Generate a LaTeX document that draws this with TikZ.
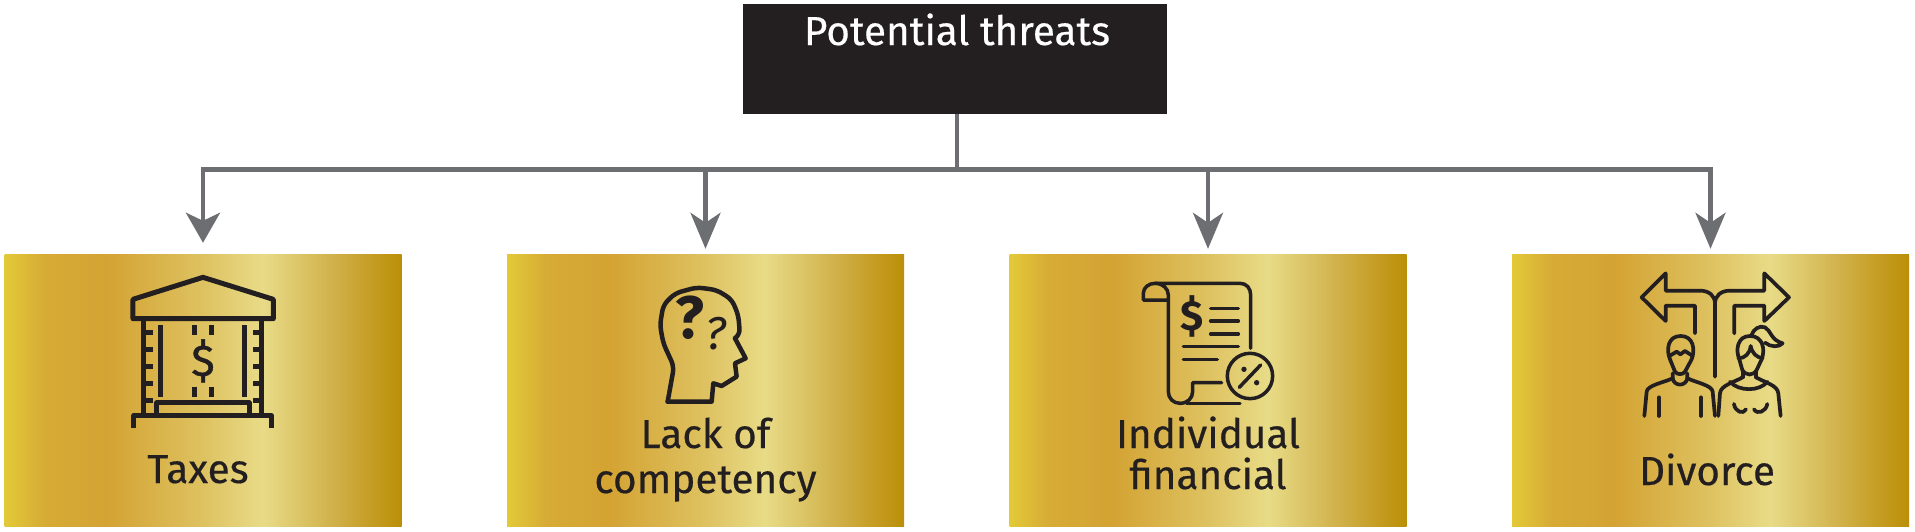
\documentclass[tikz,border=0pt]{standalone}
\usepackage{fontspec}
\setmainfont{Fira Sans}
\usetikzlibrary{arrows.meta}

\definecolor{inkblack}{HTML}{231F20}
\definecolor{linegrey}{HTML}{6D6E71}
\pgfdeclarehorizontalshading{goldleaf}{100bp}{
    rgb(0bp)=(0.89,0.79,0.22);
    rgb(25bp)=(0.89,0.79,0.22);
    rgb(30bp)=(0.84,0.67,0.21);
    rgb(38bp)=(0.83,0.64,0.20);
    rgb(44bp)=(0.85,0.70,0.29);
    rgb(50bp)=(0.87,0.76,0.38);
    rgb(57.5bp)=(0.91,0.86,0.53);
    rgb(66bp)=(0.82,0.70,0.30);
    rgb(71.5bp)=(0.77,0.61,0.13);
    rgb(75bp)=(0.73,0.56,0.03);
    rgb(100bp)=(0.73,0.56,0.03)}

\begin{document}
\begin{tikzpicture}[
        x=1pt, y=-1pt,
        goldbox/.style={rectangle, shading=goldleaf, minimum width=397pt, minimum height=272pt, inner sep=0pt},
        rootbox/.style={rectangle, fill=inkblack, minimum width=424pt, minimum height=110pt, inner sep=0pt},
        boxlabel/.style={font=\fontsize{40.5}{45}\selectfont\addfontfeature{FakeBold=0.4}, text=inkblack, inner sep=0pt, anchor=base},
        glyph/.style={text=inkblack, inner sep=0pt},
        branch/.style={draw=linegrey, line width=4.5pt, -{Stealth[length=36pt, width=30pt, inset=10pt]}, shorten >=5pt},
        icon/.style={draw=inkblack, line width=3.5pt, line join=round, line cap=round},
        thickicon/.style={icon, line width=5pt, line cap=butt},
        thinicon/.style={icon, line width=3.7pt}
    ]
    \useasboundingbox (0,0) rectangle (1915,531);

    % boxes
    \node[rootbox] (root) at (955,59) {};
    \node[goldbox] (taxes) at (203,390) {};
    \node[goldbox] (competency) at (705.5,390) {};
    \node[goldbox] (financial) at (1208,390) {};
    \node[goldbox] (divorce) at (1710.5,390) {};

    % labels
    \node[boxlabel, text=white] (rootLabel) at (957,45) {Potential threats};
    \node[boxlabel] (taxesLabel) at (198,483) {Taxes};
    \node[boxlabel] (lackLabel) at (705.5,448) {Lack of};
    \node[boxlabel] (competencyLabel) at (705.5,493) {competency};
    \node[boxlabel] (individualLabel) at (1208,448) {Individual};
    \node[boxlabel] (financialLabel) at (1208,489) {financial};
    \node[boxlabel] (divorceLabel) at (1707,485) {Divorce};

    % connectors
    \coordinate (bus) at (957,169.5);
    \draw[draw=linegrey, line width=4.5pt] (root.south -| bus) -- (bus);
    \draw[draw=linegrey, line width=5.5pt] ([xshift=-2.25pt]taxes.north |- bus) -- ([xshift=2.25pt]divorce.north |- bus);
    \draw[branch, -{Stealth[length=30pt, width=34pt, inset=8pt]}, shorten >=11pt] (taxes.north |- bus) -- (taxes.north);
    \draw[branch] (competency.north |- bus) -- (competency.north);
    \draw[branch] (financial.north |- bus) -- (financial.north);
    \draw[branch] (divorce.north |- bus) -- (divorce.north);

    % bank
    \begin{scope}[shift={(0,200)}, scale=0.3333]
        \draw[thickicon] (399,356) -- (399,298) -- (609,232) -- (820,298) -- (820,356) -- cycle;
        \draw[thickicon] (432,356) -- (432,645) (786,356) -- (786,645);
        \foreach \ty in {398,449,500,551,602} {
            \draw[thickicon] (432,\ty) -- (458,\ty) (786,\ty) -- (760,\ty);
        }
        \draw[thickicon] (483,376) -- (483,590) (735,376) -- (735,590);
        \draw[thickicon] (583,376) -- (583,405) (634,376) -- (634,405) (583,560) -- (583,590) (634,560) -- (634,590);
        \draw[thickicon, line width=4.5pt] (470,647) -- (470,608) -- (748,608) -- (748,647);
        \draw[thickicon] (402,684) -- (402,647) -- (815,647) -- (815,684);
        \node[glyph, font=\fontsize{44}{44}\selectfont\addfontfeature{FakeBold=1}] (bankDollar) at (609,483) {\$};
    \end{scope}

    % head
    \begin{scope}[shift={(500,240)}, scale=0.3333]
        \draw[icon, line width=4.5pt, rounded corners=6pt] (503,485) -- (522,380) -- (490,310) -- (480,255) -- (490,195) -- (525,160) -- (590,142)
            -- (650,150) -- (695,178) -- (715,225) -- (720,285) -- (705,295);
        \draw[icon, line width=4.5pt] (705,295) -- (737,355) -- (705,370) -- (710,410)
            -- (665,438) -- (640,430) -- (635,485) -- (503,485);
        \node[glyph, font=\fontsize{60}{60}\selectfont\bfseries] (bigMark) at (570,233) {?};
        \node[glyph, font=\fontsize{46}{46}\selectfont\itshape] (smallMark) at (648,280) {?};
    \end{scope}

    % scroll
    \begin{scope}[shift={(1000,240)}, scale=0.3333]
        \draw[icon] (465,130) -- (720,130) .. controls (740,130) and (752,145) .. (752,165) -- (752,325);
        \draw[icon] (505,180) -- (430,180) -- (430,160) .. controls (430,142) and (447,130) .. (465,130)
            .. controls (488,130) and (505,145) .. (505,165) -- (505,455)
            .. controls (505,475) and (520,490) .. (540,490) .. controls (562,490) and (578,475) .. (578,455)
            -- (578,428) -- (665,428);
        \draw[icon] (560,490) -- (720,490);
        \node[glyph, font=\fontsize{42}{42}\selectfont\bfseries] (scrollDollar) at (575,228) {\$};
        \draw[icon] (632,205) -- (715,205) (632,243) -- (715,243) (632,282) -- (715,282) (550,320) -- (715,320) (550,358) -- (652,358);
        \draw[icon] (750,408) circle[radius=68];
        \draw[icon] (718,442) -- (782,375);
        \fill[inkblack] (732,388) circle[radius=8] (770,428) circle[radius=8];
    \end{scope}

    % two people and arrows
    \begin{scope}[shift={(1500,240)}, scale=0.3333]
        \draw[thinicon] (585,280) -- (585,197) -- (497,197) -- (497,243) -- (425,172) -- (497,100) -- (497,152) -- (600,152)
            .. controls (628,152) and (645,168) .. (645,190) -- (645,410);
        \draw[thinicon] (703,280) -- (703,197) -- (793,197) -- (793,243) -- (867,172) -- (793,100) -- (793,152) -- (690,152)
            .. controls (662,152) and (645,168) .. (645,190);
        % man
        \draw[thinicon] (510,358) .. controls (498,330) and (503,288) .. (542,288) .. controls (581,288) and (586,330) .. (575,358)
            -- (555,395) .. controls (548,405) and (532,405) .. (525,395) -- cycle;
        \draw[thinicon] (508,348) -- (530,335) -- (541,343) -- (555,333) -- (578,348);
        \draw[thinicon] (518,400) -- (518,415) .. controls (522,440) and (558,440) .. (562,415) -- (562,400);
        \draw[thinicon] (433,528) -- (440,455) .. controls (442,436) and (490,428) .. (518,415);
        \draw[thinicon] (645,528) -- (638,455) .. controls (636,436) and (590,428) .. (562,415);
        \draw[thinicon] (477,472) -- (477,528) (603,472) -- (603,528);
        % woman
        \draw[thinicon] (718,358) .. controls (706,330) and (712,288) .. (750,288) .. controls (790,288) and (796,330) .. (785,358)
            -- (770,390) .. controls (760,408) and (738,408) .. (727,390) -- cycle;
        \draw[thinicon] (715,355) .. controls (735,355) and (750,340) .. (752,318) .. controls (756,340) and (770,352) .. (788,355);
        \draw[thinicon] (755,285) .. controls (760,268) and (778,255) .. (795,262) .. controls (812,270) and (812,300) .. (848,310)
            .. controls (838,322) and (812,322) .. (795,308);
        \draw[thinicon] (728,395) -- (728,412) (768,395) -- (768,412);
        \draw[thinicon] (690,425) .. controls (715,455) and (780,455) .. (802,425);
        \draw[thinicon] (655,528) -- (660,460) .. controls (662,436) and (700,428) .. (728,412);
        \draw[thinicon] (842,528) -- (835,460) .. controls (833,436) and (796,428) .. (768,412);
        \draw[thinicon] (702,492) .. controls (705,515) and (730,525) .. (738,508);
        \draw[thinicon] (762,508) .. controls (772,525) and (798,515) .. (802,492);
    \end{scope}
\end{tikzpicture}
\end{document}
